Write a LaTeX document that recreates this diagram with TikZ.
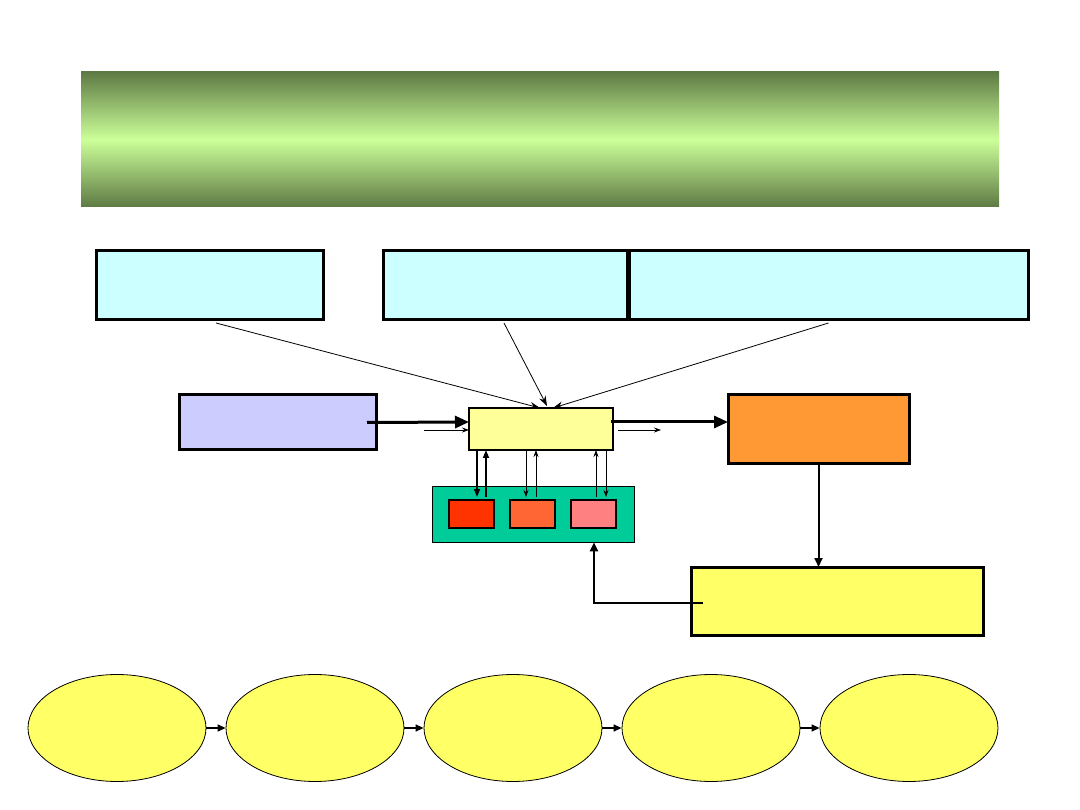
\documentclass[tikz,border=0pt]{standalone}
\usetikzlibrary{arrows.meta,shapes.geometric}
\definecolor{cyanbox}{HTML}{CCFFFF}
\definecolor{bluebox}{HTML}{CCCCFF}
\definecolor{paleyel}{HTML}{FFFF99}
\definecolor{orangebox}{HTML}{FF9933}
\definecolor{yelbox}{HTML}{FFFF66}
\definecolor{tealbox}{HTML}{00CC99}
\definecolor{redbox}{HTML}{FF3300}
\definecolor{orbox}{HTML}{FF6633}
\definecolor{pinkbox}{HTML}{FF8080}
\definecolor{bandark}{HTML}{5E7A44}
\definecolor{banlight}{HTML}{CCFF99}
\begin{document}
\begin{tikzpicture}[x=1pt,y=-1pt,
  box/.style={draw=black,line width=3pt,inner sep=0pt,outer sep=0pt},
  midbox/.style={draw=black,line width=2pt,inner sep=0pt,outer sep=0pt},
  ell/.style={ellipse,draw=black,line width=0.8pt,fill=yelbox,inner sep=0pt,minimum width=178pt,minimum height=107pt},
  thinarr/.style={line width=0.8pt,-{Stealth[length=10pt,width=7pt]}},
  smallarr/.style={line width=0.7pt,-{Stealth[length=7pt,width=5pt]}},
  boldarr/.style={line width=3pt,-{Triangle[length=14pt,width=12pt]}},
  medarr/.style={line width=1.6pt,-{Triangle[length=8pt,width=6pt]}},
  linkarr/.style={line width=2pt,-{Triangle[length=9pt,width=8pt]}},
  chainarr/.style={line width=1.4pt,-{Triangle[length=8pt,width=7pt]}}]
\useasboundingbox (0,0) rectangle (1080,810);
% banner
\node[inner sep=0pt,minimum width=918pt,minimum height=135pt,top color=bandark,bottom color=bandark,middle color=banlight] (title) at (540,139.5) {};
% top cyan boxes
\node[box,fill=cyanbox,minimum width=227pt,minimum height=69pt] (c1) at (209.5,285.5) {};
\node[box,fill=cyanbox,minimum width=244pt,minimum height=69pt] (c2) at (505,285.5) {};
\node[box,fill=cyanbox,minimum width=399pt,minimum height=69pt] (c3) at (828.5,285.5) {};
% middle row
\node[box,fill=bluebox,minimum width=197pt,minimum height=55pt] (bb) at (277.5,422.5) {};
\node[midbox,fill=paleyel,minimum width=144pt,minimum height=42pt] (cb) at (541,429) {};
\node[box,fill=orangebox,minimum width=181pt,minimum height=69pt] (ob) at (818.5,429.5) {};
% teal box and small boxes
\node[draw=black,line width=0.6pt,fill=tealbox,inner sep=0pt,minimum width=202pt,minimum height=56pt] (tb) at (533,514) {};
\node[midbox,fill=redbox,minimum width=45pt,minimum height=28pt] (s1) at (471.5,514) {};
\node[midbox,fill=orbox,minimum width=45pt,minimum height=28pt] (s2) at (532,514) {};
\node[midbox,fill=pinkbox,minimum width=45pt,minimum height=28pt] (s3) at (593,514) {};
% bottom yellow box
\node[box,fill=yelbox,minimum width=292pt,minimum height=68pt] (yb) at (837,601) {};
% ellipses
\node[ell] (e1) at (117,728) {};
\node[ell] (e2) at (315,728) {};
\node[ell] (e3) at (513,728) {};
\node[ell] (e4) at (711,728) {};
\node[ell] (e5) at (909,728) {};
% arrows from top boxes
\draw[thinarr] ([xshift=6.5pt,yshift=-3pt]c1.south) -- ([xshift=-1pt]cb.north);
\draw[thinarr] ([xshift=-1pt,yshift=-3pt]c2.south) -- ([xshift=6pt,yshift=2pt]cb.north);
\draw[thinarr] ([yshift=-3pt]c3.south) -- ([xshift=12pt]cb.north);
% horizontal arrows
\draw[boldarr] ([xshift=-9pt]bb.east) -- ([yshift=7pt]cb.west);
\coordinate (tin) at ([xshift=-45pt,yshift=-1pt]cb.west);
\draw[smallarr] (tin) -- ([yshift=-1pt]cb.west);
\draw[boldarr] ([xshift=-2pt,yshift=7pt]cb.east) -- ([yshift=7.5pt]ob.west);
\coordinate (tout) at ([xshift=48pt,yshift=-1pt]cb.east);
\draw[smallarr] ([xshift=5pt,yshift=-1pt]cb.east) -- (tout);
% vertical arrows between centre box and small boxes
\draw[medarr] ([xshift=-64pt]cb.south) -- ([xshift=5.5pt,yshift=3pt]s1.north);
\draw[medarr] ([xshift=14.5pt,yshift=3pt]s1.north) -- ([xshift=-55pt]cb.south);
\draw[smallarr] ([xshift=-15pt]cb.south) -- ([xshift=-6pt,yshift=3pt]s2.north);
\draw[smallarr] ([xshift=4pt,yshift=3pt]s2.north) -- ([xshift=-5pt]cb.south);
\draw[smallarr] ([xshift=3pt,yshift=3pt]s3.north) -- ([xshift=55pt]cb.south);
\draw[smallarr] ([xshift=65pt]cb.south) -- ([xshift=13pt,yshift=3pt]s3.north);
% orange to bottom yellow
\draw[linkarr] (ob.south) -- (ob.south |- yb.north);
% bottom yellow back to teal
\draw[linkarr] ([xshift=12pt,yshift=-2pt]yb.west) -| ([xshift=61pt]tb.south);
% ellipse chain
\draw[chainarr] (e1.east) -- (e2.west);
\draw[chainarr] (e2.east) -- (e3.west);
\draw[chainarr] (e3.east) -- (e4.west);
\draw[chainarr] (e4.east) -- (e5.west);
\end{tikzpicture}
\end{document}
